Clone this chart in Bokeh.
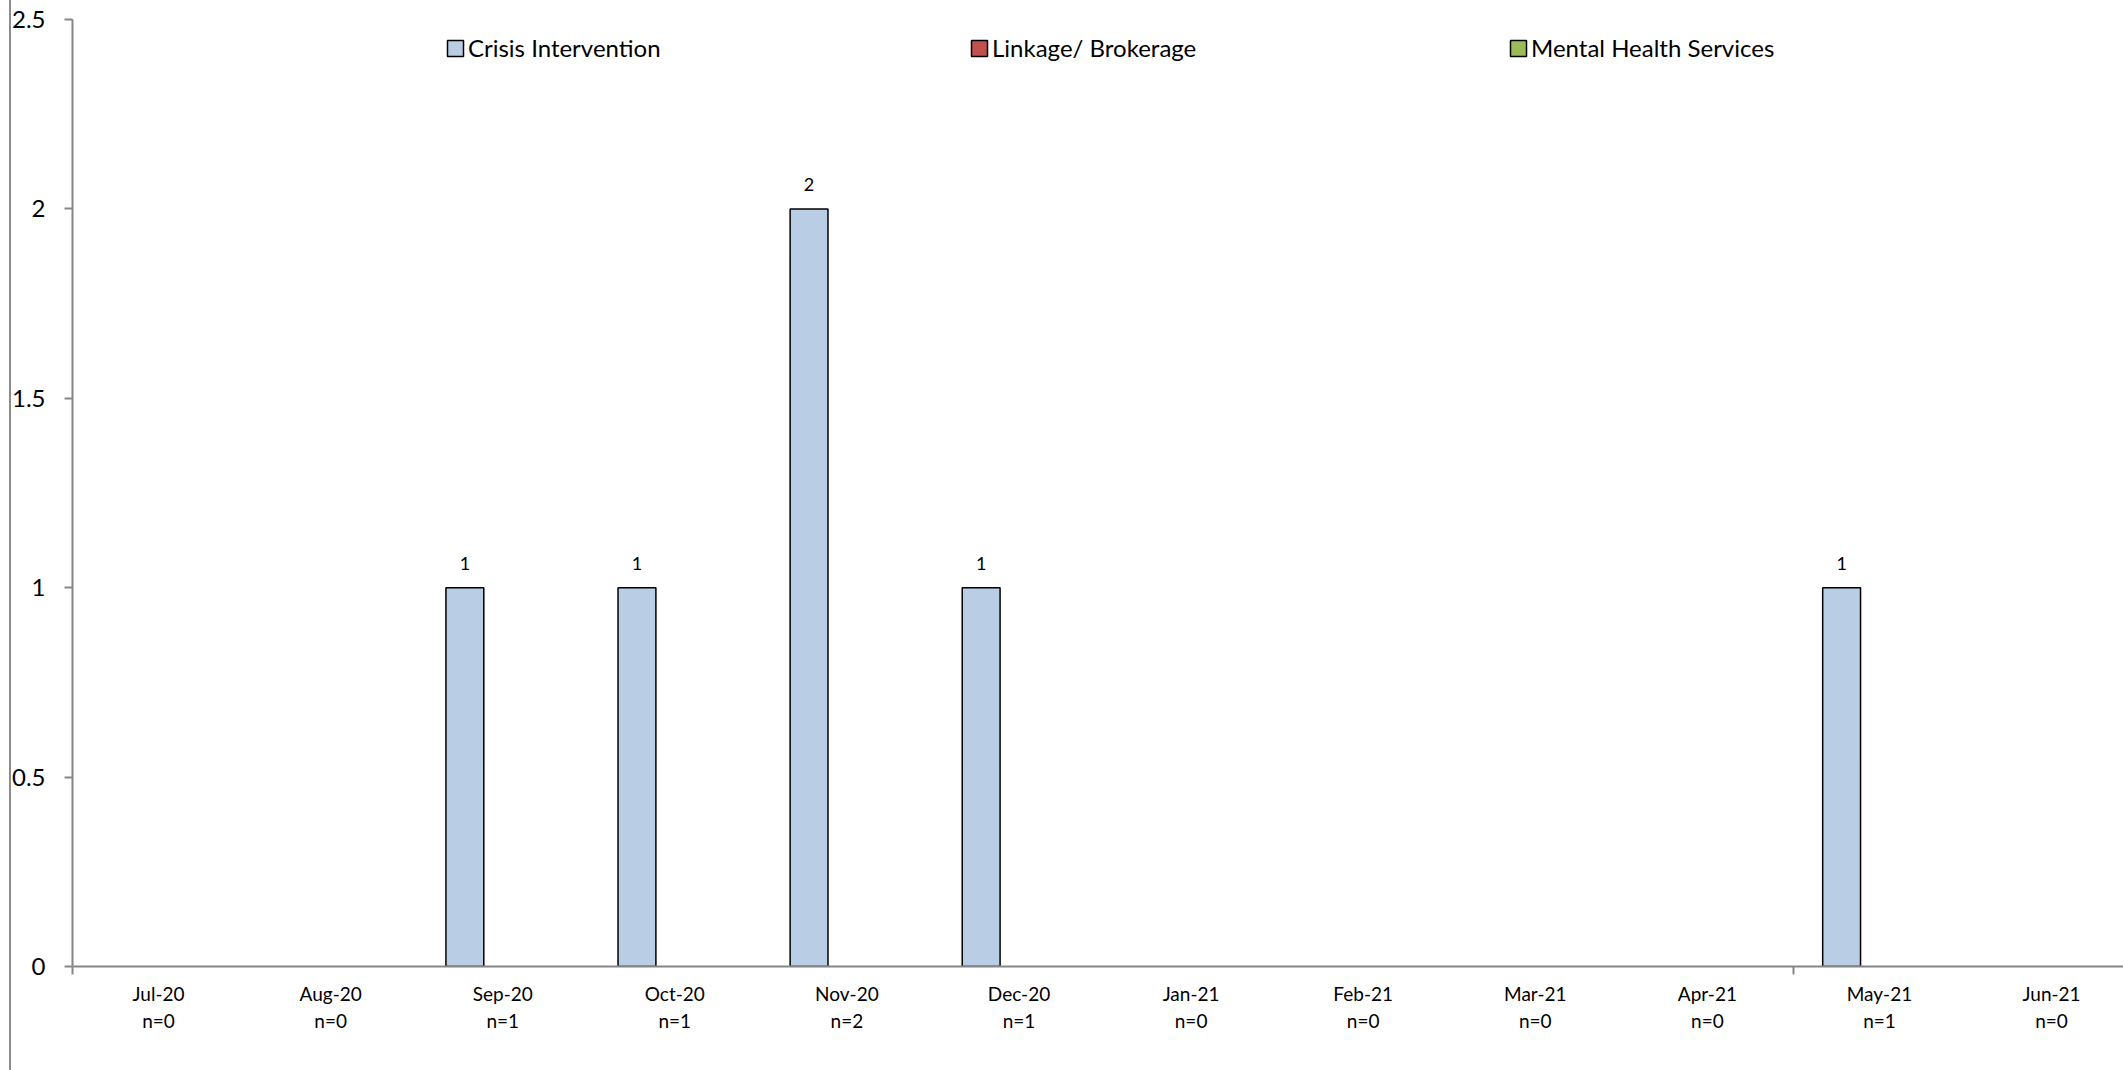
from bokeh.plotting import figure
from bokeh.models import (ColumnDataSource, Range1d, FixedTicker, Legend, LegendItem,
                          CDSView, BooleanFilter)
from bokeh.transform import dodge
from bokeh.core.properties import value
from bokeh.embed import file_html
from bokeh.resources import INLINE

# Monthly counts by service type
months = ["Jul-20", "Aug-20", "Sep-20", "Oct-20", "Nov-20", "Dec-20",
          "Jan-21", "Feb-21", "Mar-21", "Apr-21", "May-21", "Jun-21"]
n_counts = [0, 0, 1, 1, 2, 1, 0, 0, 0, 0, 1, 0]
crisis = [0, 0, 1, 1, 2, 1, 0, 0, 0, 0, 1, 0]
linkage = [0, 0, 0, 0, 0, 0, 0, 0, 0, 0, 0, 0]
mental = [0, 0, 0, 0, 0, 0, 0, 0, 0, 0, 0, 0]
y_ticks = [0, 0.5, 1, 1.5, 2, 2.5]
y_tick_labels = ["0", "0.5", "1", "1.5", "2", "2.5"]

series = [
    ("Crisis Intervention", crisis, "#B9CDE5", -0.22),
    ("Linkage/ Brokerage", linkage, "#C0504D", 0.0),
    ("Mental Health Services", mental, "#9BBB59", 0.22),
]

FONT = "Lato"
AXIS_GREY = "#868686"
BAR_W = 0.22

x_pos = [i + 0.5 for i in range(len(months))]

p = figure(width=2123, height=1070, output_backend="svg", toolbar_location=None,
           x_range=Range1d(0, 11.918), y_range=Range1d(0, 2.5),
           min_border_left=72, min_border_right=0, min_border_top=19,
           min_border_bottom=104, background_fill_color="white",
           border_fill_color=None)
p.outline_line_color = None
p.xgrid.visible = False
p.ygrid.visible = False

# chart border on the far left, drawn behind the transparent canvas border
p.styles = {"background": "linear-gradient(to right, #ffffff 0px, #ffffff 9px, "
                          "#8c8c8c 9px, #8c8c8c 11px, #ffffff 11px, #ffffff 100%)"}

# x axis: month labels at category centres, boundary ticks as minor ticks
xax = p.xaxis[0]
xax.ticker = FixedTicker(ticks=x_pos, minor_ticks=[0, 10])
xax.major_label_overrides = {x: f"{m}\nn={n}" for x, m, n in zip(x_pos, months, n_counts)}
xax.major_tick_line_color = None
xax.major_tick_out = 0
xax.major_tick_in = 0
xax.minor_tick_out = 8
xax.minor_tick_in = 0
xax.minor_tick_line_color = AXIS_GREY
xax.minor_tick_line_width = 2
xax.axis_line_color = AXIS_GREY
xax.axis_line_width = 2
xax.major_label_text_font = FONT
xax.major_label_text_font_size = "19px"
xax.major_label_text_color = "black"
xax.major_label_standoff = 7

yax = p.yaxis[0]
yax.ticker = FixedTicker(ticks=y_ticks)
yax.major_label_overrides = {t: l for t, l in zip(y_ticks, y_tick_labels)}
yax.minor_tick_line_color = None
yax.major_tick_out = 8
yax.major_tick_in = 0
yax.major_tick_line_color = AXIS_GREY
yax.major_tick_line_width = 2
yax.axis_line_color = AXIS_GREY
yax.axis_line_width = 2
yax.major_label_text_font = FONT
yax.major_label_text_font_size = "24px"
yax.major_label_text_color = "black"
yax.major_label_standoff = 19

legend_x = [373, 897, 1436]
for (name, vals, color, off), lx in zip(series, legend_x):
    src = ColumnDataSource(dict(x=x_pos, top=vals))
    bar_style = dict(fill_color=color, line_color="black", line_width=1.5)
    view = CDSView(filter=BooleanFilter([v > 0 for v in vals]))
    p.vbar(x=dodge("x", off, range=p.x_range), top="top", bottom=0, width=BAR_W,
           source=src, view=view, **bar_style)
    # full-series renderer (hidden) that supplies the legend swatch
    key = p.vbar(x=dodge("x", off, range=p.x_range), top="top", bottom=0, width=BAR_W,
                 source=src, visible=False, **bar_style)
    leg = Legend(items=[LegendItem(label=name, renderers=[key])], location=(lx, 904),
                 orientation="horizontal", padding=0, margin=0, border_line_color=None,
                 background_fill_alpha=0, glyph_width=20, glyph_height=20,
                 label_standoff=3, label_text_font=FONT, label_text_font_size="24px",
                 label_text_color="black")
    p.add_layout(leg)

    if name == "Crisis Intervention":
        lab_src = ColumnDataSource(dict(x=[x for x, v in zip(x_pos, vals) if v > 0],
                                        y=[v for v in vals if v > 0],
                                        t=[str(v) for v in vals if v > 0]))
        p.text(x=dodge("x", off, range=p.x_range), y="y", text="t", source=lab_src,
               text_align="center", text_baseline="bottom", y_offset=-18,
               text_font=value(FONT), text_font_size="18px", text_color="black")

open("out.html", "w").write(file_html(p, INLINE))
